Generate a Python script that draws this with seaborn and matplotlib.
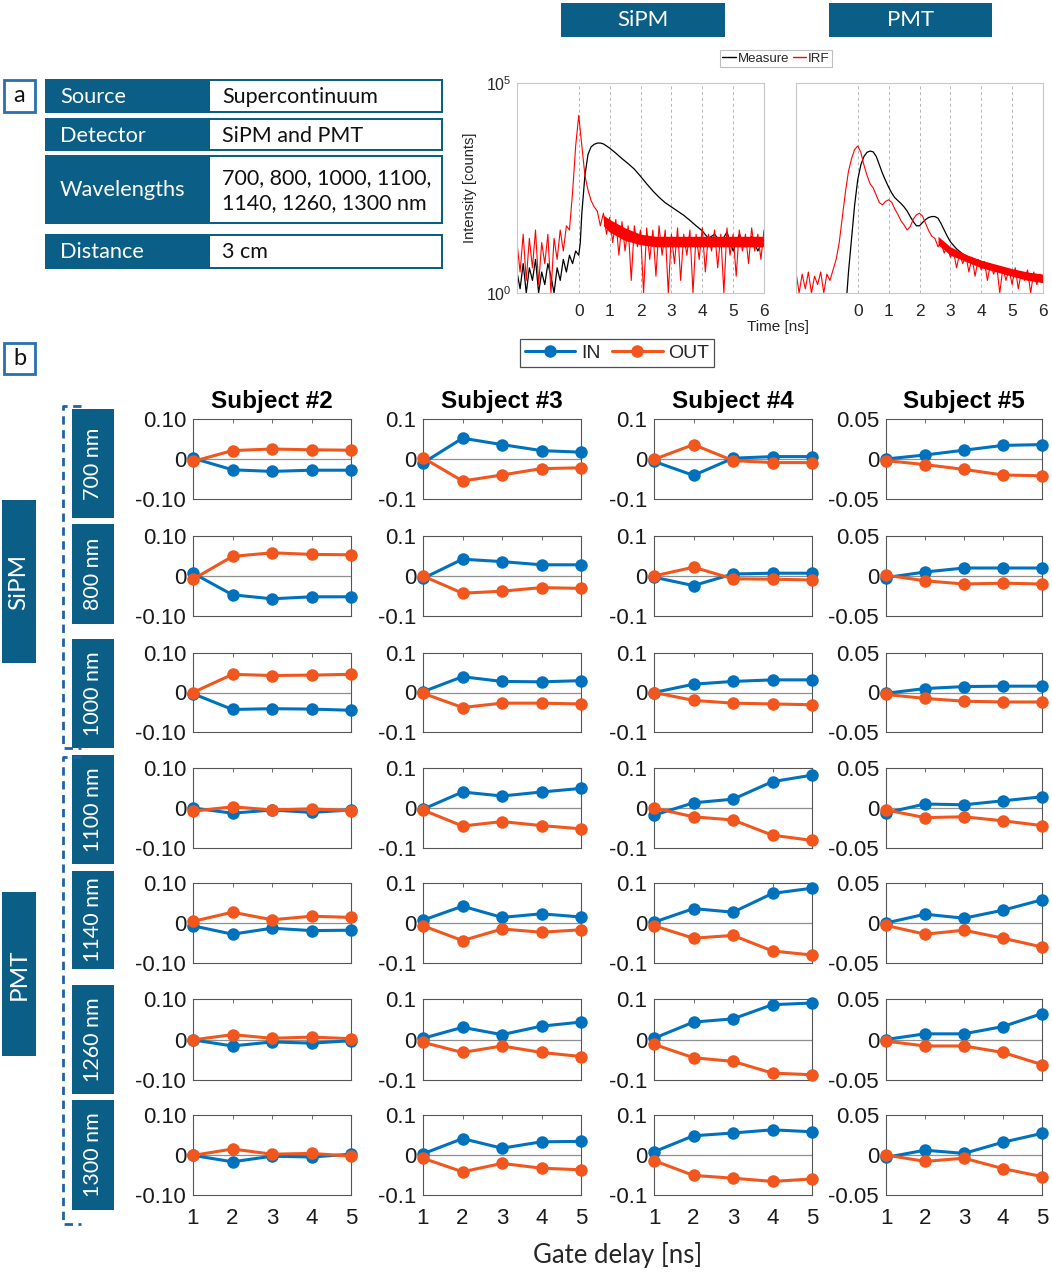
import numpy as np
import pandas as pd
import matplotlib
matplotlib.use("Agg")
import matplotlib.pyplot as plt
import seaborn as sns
from matplotlib.patches import Rectangle
from matplotlib.lines import Line2D

# ---------------- data ----------------
table_keys = ["Source", "Detector", "Wavelengths", "Distance"]
table_vals = ["Supercontinuum", "SiPM and PMT", "700, 800, 1000, 1100,\n1140, 1260, 1300 nm", "3 cm"]

subjects = ["Subject #2", "Subject #3", "Subject #4", "Subject #5"]
wavelengths = ["700 nm", "800 nm", "1000 nm", "1100 nm", "1140 nm", "1260 nm", "1300 nm"]
gate_delay = [1, 2, 3, 4, 5]
series_names = ["IN", "OUT"]

IN_S2 = [[0.002, -0.027, -0.031, -0.028, -0.028],
         [0.007, -0.047, -0.057, -0.052, -0.052],
         [-0.003, -0.043, -0.041, -0.042, -0.045],
         [0.000, -0.013, -0.005, -0.011, -0.005],
         [-0.007, -0.028, -0.013, -0.019, -0.018],
         [-0.001, -0.016, -0.006, -0.009, -0.003],
         [-0.001, -0.017, -0.003, -0.005, 0.002]]
OUT_S2 = [[-0.006, 0.021, 0.025, 0.023, 0.022],
          [-0.008, 0.049, 0.058, 0.054, 0.053],
          [0.000, 0.046, 0.043, 0.044, 0.046],
          [-0.008, 0.003, -0.005, -0.002, -0.007],
          [0.004, 0.027, 0.008, 0.017, 0.014],
          [-0.001, 0.012, 0.003, 0.006, 0.002],
          [-0.001, 0.015, 0.002, 0.004, -0.003]]
IN_S3 = [[-0.010, 0.052, 0.036, 0.021, 0.017],
         [-0.006, 0.042, 0.036, 0.028, 0.028],
         [0.002, 0.040, 0.028, 0.027, 0.030],
         [-0.003, 0.040, 0.030, 0.040, 0.049],
         [0.007, 0.042, 0.014, 0.023, 0.015],
         [0.003, 0.030, 0.012, 0.033, 0.043],
         [0.003, 0.041, 0.017, 0.033, 0.034]]
OUT_S3 = [[0.003, -0.055, -0.040, -0.024, -0.022],
          [0.000, -0.043, -0.038, -0.029, -0.031],
          [-0.002, -0.038, -0.027, -0.027, -0.029],
          [-0.005, -0.045, -0.034, -0.044, -0.052],
          [-0.007, -0.044, -0.015, -0.023, -0.017],
          [-0.007, -0.032, -0.016, -0.032, -0.042],
          [-0.008, -0.042, -0.021, -0.033, -0.037]]
IN_S4 = [[-0.006, -0.041, 0.002, 0.006, 0.006],
         [-0.003, -0.024, 0.005, 0.007, 0.007],
         [0.000, 0.021, 0.028, 0.032, 0.032],
         [-0.018, 0.013, 0.022, 0.066, 0.082],
         [0.002, 0.036, 0.027, 0.074, 0.087],
         [0.003, 0.043, 0.051, 0.086, 0.090],
         [0.008, 0.048, 0.055, 0.063, 0.058]]
OUT_S4 = [[-0.001, 0.036, -0.004, -0.009, -0.009],
          [0.000, 0.022, -0.007, -0.008, -0.010],
          [0.000, -0.020, -0.027, -0.029, -0.031],
          [0.000, -0.022, -0.030, -0.068, -0.081],
          [-0.007, -0.038, -0.031, -0.070, -0.080],
          [-0.012, -0.045, -0.054, -0.083, -0.087],
          [-0.014, -0.051, -0.058, -0.066, -0.060]]
IN_S5 = [[0.000, 0.005, 0.011, 0.017, 0.018],
         [-0.002, 0.005, 0.010, 0.010, 0.010],
         [-0.001, 0.005, 0.0075, 0.008, 0.008],
         [-0.006, 0.005, 0.004, 0.009, 0.014],
         [0.000, 0.011, 0.006, 0.016, 0.029],
         [0.000, 0.007, 0.007, 0.016, 0.032],
         [-0.003, 0.006, 0.002, 0.016, 0.027]]
OUT_S5 = [[-0.002, -0.007, -0.013, -0.020, -0.021],
          [0.001, -0.006, -0.010, -0.009, -0.010],
          [-0.0025, -0.0075, -0.011, -0.012, -0.012],
          [-0.0025, -0.012, -0.011, -0.016, -0.022],
          [-0.003, -0.014, -0.009, -0.019, -0.030],
          [-0.002, -0.008, -0.008, -0.016, -0.031],
          [0.000, -0.008, -0.004, -0.017, -0.027]]

y_limits = [0.10, 0.1, 0.1, 0.05]
y_ticklabels = [["-0.10", "0", "0.10"], ["-0.1", "0", "0.1"],
                ["-0.1", "0", "0.1"], ["-0.05", "0", "0.05"]]

# time-resolved curves (log10 of counts), sampled every 0.1 ns
irf_time = np.round(np.linspace(-2.0, 6.0, 81), 2)
SIPM_IRF_LOG = [1.2, 0.5, 1.4, 0.3, 1.3, 0.6, 1.5, 0.2, 1.2, 0.7,
                1.4, 0.0, 1.3, 0.8, 1.5, 1.0, 1.6, 1.5, 2.4, 3.5,
                4.23, 3.5, 2.8, 2.45, 2.2, 2.05, 1.95, 1.6, 1.9, 1.4,
                1.8, 1.2, 1.75, 0.9, 1.7, 1.0, 1.6, 0.3, 1.6, 1.1,
                1.5, 0.0, 1.55, 0.8, 1.5, 0.4, 1.6, 0.9, 1.5, 0.0,
                1.4, 0.7, 1.55, 0.3, 1.4, 0.9, 1.5, 0.0, 1.4, 0.8,
                1.55, 0.5, 1.4, 1.0, 1.5, 0.6, 1.4, 0.0, 1.55, 0.9,
                1.4, 0.4, 1.5, 1.0, 1.4, 0.7, 1.55, 1.0, 1.4, 0.8,
                1.5]
PMT_IRF_LOG = [0.5, 0.0, 0.45, 0.1, 0.5, 0.0, 0.4, 0.2, 0.5, 0.0,
               0.45, 0.3, 0.55, 0.8, 1.2, 1.8, 2.4, 2.9, 3.2, 3.42,
               3.5, 3.35, 3.05, 2.8, 2.6, 2.5, 2.33, 2.15, 2.1, 2.18,
               2.22, 2.16, 2.0, 1.87, 1.72, 1.62, 1.5, 1.58, 1.76, 1.86,
               1.9, 1.83, 1.65, 1.48, 1.35, 1.3, 1.1, 1.2, 0.95, 1.1,
               0.85, 1.0, 0.6, 0.95, 0.7, 0.9, 0.5, 0.85, 0.4, 0.8,
               0.55, 0.75, 0.3, 0.7, 0.45, 0.65, 0.0, 0.6, 0.3, 0.55,
               0.2, 0.6, 0.1, 0.5, 0.3, 0.55, 0.0, 0.5, 0.2, 0.45,
               0.3]
SIPM_MEAS_T = [-2.0, -1.9, -1.8, -1.7, -1.6, -1.5, -1.4, -1.3, -1.2, -1.1,
               -1.0, -0.9, -0.8, -0.7, -0.6, -0.5, -0.4, -0.3, -0.2, -0.1,
               0.0, 0.05, 0.1, 0.2, 0.3, 0.4, 0.5, 0.6, 0.7, 0.8, 0.9, 1.0,
               1.2, 1.4, 1.6, 1.8, 2.0, 2.2, 2.4, 2.6, 2.8, 3.0, 3.2, 3.4,
               3.6, 3.8, 4.0, 4.2, 4.4, 4.6, 4.8, 5.0, 5.2, 5.4, 5.6, 5.8, 6.0]
SIPM_MEAS_LOG = [0.5, 0.1, 0.7, 0.0, 0.6, 0.3, 0.8, 0.0, 0.5, 0.2,
                 0.7, 0.4, 0.0, 0.6, 0.3, 0.8, 0.5, 0.9, 0.7, 1.0,
                 0.9, 1.2, 1.9, 2.8, 3.3, 3.48, 3.54, 3.57, 3.57, 3.55, 3.5, 3.45,
                 3.33, 3.2, 3.08, 2.95, 2.78, 2.6, 2.43, 2.28, 2.15, 2.05, 1.95, 1.85,
                 1.73, 1.6, 1.48, 1.3, 1.4, 1.2, 1.45, 1.0, 1.4, 1.1, 1.35, 1.0, 1.3]
PMT_MEAS_T = [-0.35, -0.3, -0.2, -0.1, 0.0, 0.1, 0.2, 0.3, 0.4, 0.5, 0.6, 0.7,
              0.8, 0.9, 1.0, 1.1, 1.2, 1.3, 1.4, 1.5, 1.6, 1.7, 1.8, 1.9, 2.0,
              2.1, 2.2, 2.3, 2.4, 2.5, 2.6, 2.7, 2.8, 2.9, 3.0, 3.2, 3.4, 3.6,
              3.8, 4.0, 4.5, 5.0, 5.5, 5.8, 6.0]
PMT_MEAS_LOG = [0.0, 0.5, 1.3, 2.1, 2.7, 3.05, 3.25, 3.35, 3.38, 3.36, 3.25, 3.05,
                2.85, 2.68, 2.52, 2.38, 2.27, 2.2, 2.13, 2.05, 1.95, 1.82, 1.7, 1.6, 1.6,
                1.68, 1.75, 1.8, 1.82, 1.82, 1.78, 1.65, 1.5, 1.35, 1.22, 1.05, 0.93, 0.85,
                0.8, 0.75, 0.62, 0.52, 0.42, 0.3, 0.25]

# dense-noise cores of the IRF tails (log10 of counts)
SIPM_TAIL_NOISE_T = [0.8, 1.0, 1.5, 2.0, 2.5, 3.0, 3.5, 4.0, 4.5, 5.0, 5.5, 6.0]
SIPM_TAIL_NOISE_LO = [1.6, 1.45, 1.25, 1.15, 1.1, 1.1, 1.1, 1.1, 1.1, 1.1, 1.1, 1.1]
SIPM_TAIL_NOISE_HI = [1.85, 1.75, 1.55, 1.4, 1.35, 1.35, 1.35, 1.35, 1.35, 1.35, 1.35, 1.35]
PMT_TAIL_NOISE_T = [2.6, 3.0, 3.5, 4.0, 4.5, 5.0, 5.5, 6.0]
PMT_TAIL_NOISE_LO = [1.15, 0.9, 0.75, 0.6, 0.5, 0.4, 0.3, 0.25]
PMT_TAIL_NOISE_HI = [1.35, 1.1, 0.92, 0.78, 0.68, 0.58, 0.5, 0.45]

# ---------------- style ----------------
sns.set_style("white")
plt.rcParams["font.family"] = ["Liberation Sans", "DejaVu Sans"]
plt.rcParams["mathtext.fontset"] = "custom"
plt.rcParams["mathtext.rm"] = "Liberation Sans"

DARK = "#0b5e86"
BORDER = "#2a6fae"
C_IN = "#0072BD"
C_OUT = "#F0561D"
PPT_FONT = ["Lato", "DejaVu Sans"]

W, H = 1052, 1273
fig = plt.figure(figsize=(W / 100, H / 100), dpi=100)


def ax_px(x0, y0, x1, y1):
    return fig.add_axes([x0 / W, 1 - y1 / H, (x1 - x0) / W, (y1 - y0) / H])


ov = fig.add_axes([0, 0, 1, 1])
ov.set_xlim(0, W)
ov.set_ylim(H, 0)
ov.axis("off")


def rect(x0, y0, x1, y1, fc, ec="none", lw=0):
    ov.add_patch(Rectangle((x0, y0), x1 - x0, y1 - y0, facecolor=fc, edgecolor=ec, linewidth=lw))


# ---- panel a: table ----
rect(4, 80, 35, 112, "white", BORDER, 2)
ov.text(19.5, 96, "a", ha="center", va="center", fontsize=17, family=PPT_FONT, color="#111")
rows_y = [(79, 113), (118, 151), (155, 224), (234, 269)]
for (y0, y1), k, v in zip(rows_y, table_keys, table_vals):
    rect(45, y0, 443, y1, DARK)
    rect(209.5, y0 + 2, 441, y1 - 2, "white")
    ov.text(60, (y0 + y1) / 2 + 1, k, ha="left", va="center", fontsize=15.7, color="white", family=PPT_FONT)
    ov.text(222, (y0 + y1) / 2 + 1, v, ha="left", va="center", fontsize=15.5, color="#111",
            family=PPT_FONT, linespacing=1.35)

# ---- top detector headers ----
for (x0, x1), lab in zip([(561, 725), (829, 992)], ["SiPM", "PMT"]):
    rect(x0, 3, x1, 37, DARK)
    ov.text((x0 + x1) / 2, 20, lab, ha="center", va="center", fontsize=16, color="white", family=PPT_FONT)

# ---- decay curves ----
decay_axes = [ax_px(517, 83, 764, 293), ax_px(796, 83, 1043, 293)]
curves = [((SIPM_MEAS_T, SIPM_MEAS_LOG), (irf_time, SIPM_IRF_LOG)),
          ((PMT_MEAS_T, PMT_MEAS_LOG), (irf_time, PMT_IRF_LOG))]
bands = [(SIPM_TAIL_NOISE_T, SIPM_TAIL_NOISE_LO, SIPM_TAIL_NOISE_HI),
         (PMT_TAIL_NOISE_T, PMT_TAIL_NOISE_LO, PMT_TAIL_NOISE_HI)]
for i, (ax, ((mt, mv), (it, iv))) in enumerate(zip(decay_axes, curves)):
    dm = pd.DataFrame({"t": mt, "c": 10 ** np.asarray(mv)})
    di = pd.DataFrame({"t": it, "c": 10 ** np.asarray(iv)})
    sns.lineplot(data=dm, x="t", y="c", color="black", lw=0.9, ax=ax, sort=False)
    sns.lineplot(data=di, x="t", y="c", color="#ff0000", lw=0.8, ax=ax, sort=False)
    bt, blo, bhi = bands[i]
    ax.fill_between(bt, 10 ** np.asarray(blo), 10 ** np.asarray(bhi), color="#ff0000", lw=0, zorder=2.5)
    ax.set_yscale("log")
    ax.set_ylim(1, 1e5)
    ax.set_xlim(-2, 6)
    ax.set_xticks(range(0, 7))
    ax.minorticks_off()
    ax.set_xlabel("")
    ax.set_ylabel("")
    ax.grid(axis="x", ls=(0, (3, 3)), color="#b5b5b5", lw=0.7)
    for sp in ax.spines.values():
        sp.set_color("#c8c8c8")
        sp.set_linewidth(0.8)
    ax.tick_params(axis="both", labelsize=12.5, colors="#c8c8c8", labelcolor="#262626", length=0, pad=8)
    if i == 0:
        ax.set_yticks([1, 1e5])
        ax.set_yticklabels([r"$10^0$", r"$10^5$"])
        ax.tick_params(axis="y", labelsize=11.5, pad=4)
        ax.set_ylabel("Intensity [counts]", fontsize=10.5, color="#262626", labelpad=6)
    else:
        ax.set_yticks([])

ov.text(778, 327, "Time [ns]", ha="center", va="center", fontsize=11, color="#262626")
dleg = fig.legend([Line2D([], [], color="black", lw=1), Line2D([], [], color="red", lw=1)],
                  ["Measure", "IRF"], loc="center", bbox_to_anchor=(776 / W, 1 - 58.5 / H),
                  ncol=2, fontsize=9.5, frameon=True, fancybox=False, edgecolor="#b0b0b0",
                  handlelength=1.0, handletextpad=0.15, columnspacing=0.3, borderpad=0.15,
                  borderaxespad=0)
dleg.get_frame().set_linewidth(0.8)

# ---- panel b ----
rect(4, 343, 35, 374, "white", BORDER, 2)
ov.text(19.5, 358.5, "b", ha="center", va="center", fontsize=17, family=PPT_FONT, color="#111")

leg = fig.legend([Line2D([], [], color=C_IN, marker="o", lw=2.2, ms=9, mew=0),
                  Line2D([], [], color=C_OUT, marker="o", lw=2.2, ms=9, mew=0)],
                 series_names, loc="center", bbox_to_anchor=(617 / W, 1 - 353 / H), ncol=2,
                 fontsize=14, frameon=True, fancybox=False, edgecolor="#222222",
                 handlelength=2.6, handletextpad=0.3, columnspacing=0.6, borderpad=0.25,
                 borderaxespad=0)
leg.get_frame().set_linewidth(0.9)

# row label boxes
row_boxes = [(409, 518), (524, 624), (639, 748), (755, 864), (871, 969), (985, 1094), (1100, 1210)]
for (y0, y1), wl in zip(row_boxes, wavelengths):
    rect(72, y0, 114, y1, DARK)
    ov.text(93, (y0 + y1) / 2, wl, ha="center", va="center", rotation=90, fontsize=15.5,
            color="white", family=PPT_FONT)
for (y0, y1), lab in zip([(500, 663), (892, 1056)], ["SiPM", "PMT"]):
    rect(2, y0, 36, y1, DARK)
    ov.text(19, (y0 + y1) / 2, lab, ha="center", va="center", rotation=90, fontsize=17.5,
            color="white", family=PPT_FONT)

# dashed brackets
for y0, y1 in [(406, 748), (757, 1224)]:
    ov.plot([81, 63, 63, 81], [y0, y0, y1, y1], color="#1f62a6", lw=2, ls=(0, (3, 2)),
            solid_capstyle="butt")

# small multiples
col_x = [(193, 351), (423, 581), (654, 812), (886, 1042)]
row_y = [(419, 499), (536, 616), (653, 732), (768, 848), (883, 963), (999, 1080), (1115, 1195)]
IN_ALL = [IN_S2, IN_S3, IN_S4, IN_S5]
OUT_ALL = [OUT_S2, OUT_S3, OUT_S4, OUT_S5]
palette = {"IN": C_IN, "OUT": C_OUT}

for c, (x0, x1) in enumerate(col_x):
    lim = y_limits[c]
    for r, (y0, y1) in enumerate(row_y):
        ax = ax_px(x0, y0, x1, y1)
        df = pd.DataFrame({"gate": gate_delay * 2,
                           "value": IN_ALL[c][r] + OUT_ALL[c][r],
                           "series": ["IN"] * 5 + ["OUT"] * 5})
        ax.axhline(0, color="#8f8f8f", lw=0.9, zorder=1)
        sns.lineplot(data=df, x="gate", y="value", hue="series", hue_order=series_names,
                     palette=palette, marker="o", markersize=9, markeredgewidth=0,
                     linewidth=2.2, legend=False, ax=ax, zorder=3)
        for ln in ax.lines:
            ln.set_clip_on(False)
        ax.set_xlim(1, 5)
        ax.set_ylim(-lim, lim)
        ax.set_yticks([-lim, 0, lim])
        ax.set_yticklabels(y_ticklabels[c])
        ax.set_xticks(gate_delay)
        if r < len(row_y) - 1:
            ax.set_xticklabels([])
        ax.set_xlabel("")
        ax.set_ylabel("")
        ax.tick_params(direction="in", length=3, width=0.6, colors="#555555",
                       labelcolor="#1a1a1a", labelsize=16, top=True, right=True,
                       labeltop=False, labelright=False, pad=5)
        ax.tick_params(axis="x", pad=9)
        for sp in ax.spines.values():
            sp.set_color("#555555")
            sp.set_linewidth(0.8)
        if r == 0:
            ax.set_title(subjects[c], fontsize=17.5, fontweight="bold", pad=8, color="black")

ov.text(618, 1255, "Gate delay [ns]", ha="center", va="center", fontsize=18.5, color="#262626",
        family=PPT_FONT)

fig.savefig("out.png", dpi=100)
